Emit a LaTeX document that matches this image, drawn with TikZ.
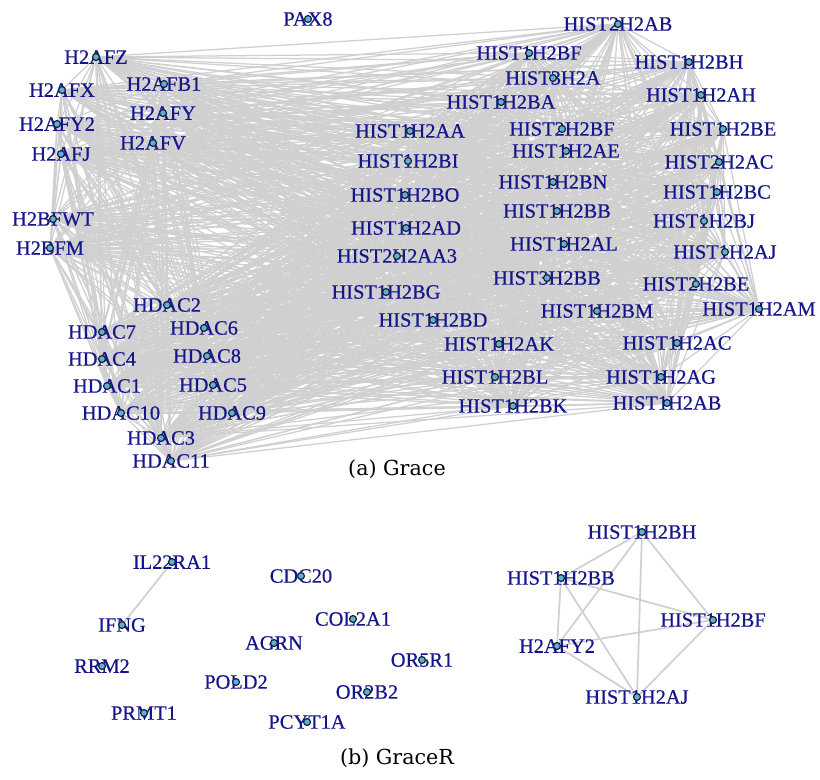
\documentclass[tikz,border=0pt]{standalone}
\usepackage{fontspec}
\setmainfont{Liberation Serif}
\newfontfamily\labfont{Liberation Serif}[FakeBold=0.5]
\newfontfamily\capfont{DejaVu Serif}
\definecolor{labcol}{RGB}{22,22,140}
\definecolor{edgecol}{RGB}{208,208,208}
\definecolor{dotfill}{RGB}{95,175,215}
\definecolor{dotline}{RGB}{20,35,55}
\pgfdeclarelayer{background}
\pgfsetlayers{background,main}
\tikzset{
  lab/.style={inner sep=0pt, text=labcol, font=\labfont\fontsize{15.3}{15}\selectfont},
  gdot/.style={circle, minimum size=5.2pt, inner sep=0pt, fill=dotfill, draw=dotline, line width=0.9pt},
  edgeA/.style={draw=edgecol, line width=0.95pt},
  edgeB/.style={draw=edgecol, line width=1.3pt},
  captxt/.style={inner sep=0pt, font=\capfont\fontsize{15.5}{16}\selectfont, text=black}
}
\newcommand\gnode[3]{\node[lab] (lbl-#1) at (#2) {#3}; \node[gdot] (#1) at (#2) {};}
\begin{document}
\begin{tikzpicture}[x=0.75pt,y=-0.75pt]
\useasboundingbox (0,0) rectangle (820,779);
% ---- panel (a)
\gnode{PAX8}{308,19}{PAX8}
\gnode{H2AFZ}{96,57}{H2AFZ}
\gnode{H2AFX}{62,90}{H2AFX}
\gnode{H2AFY2}{57,124}{H2AFY2}
\gnode{H2AFJ}{61,154}{H2AFJ}
\gnode{H2AFB1}{164,84}{H2AFB1}
\gnode{H2AFY}{163,113}{H2AFY}
\gnode{H2AFV}{153,143}{H2AFV}
\gnode{H2BFWT}{53,219}{H2BFWT}
\gnode{H2BFM}{50,248}{H2BFM}
\gnode{HIST2H2AB}{618,24}{HIST2H2AB}
\gnode{HIST1H2BF}{529,53}{HIST1H2BF}
\gnode{HIST3H2A}{553,78}{HIST3H2A}
\gnode{HIST1H2BH}{689,62}{HIST1H2BH}
\gnode{HIST1H2BA}{501,102}{HIST1H2BA}
\gnode{HIST1H2AH}{701,95}{HIST1H2AH}
\gnode{HIST1H2AA}{410,131}{HIST1H2AA}
\gnode{HIST2H2BF}{562,129}{HIST2H2BF}
\gnode{HIST1H2BE}{723,129}{HIST1H2BE}
\gnode{HIST1H2BI}{408,161}{HIST1H2BI}
\gnode{HIST1H2AE}{566,151}{HIST1H2AE}
\gnode{HIST2H2AC}{719,162}{HIST2H2AC}
\gnode{HIST1H2BO}{405,195}{HIST1H2BO}
\gnode{HIST1H2BN}{553,182}{HIST1H2BN}
\gnode{HIST1H2BC}{717,192}{HIST1H2BC}
\gnode{HIST1H2BB}{557,211}{HIST1H2BB}
\gnode{HIST1H2BJ}{704,221}{HIST1H2BJ}
\gnode{HIST1H2AD}{406,228}{HIST1H2AD}
\gnode{HIST1H2AL}{564,244}{HIST1H2AL}
\gnode{HIST1H2AJ}{725,252}{HIST1H2AJ}
\gnode{HIST2H2AA3}{397,256}{HIST2H2AA3}
\gnode{HIST3H2BB}{547,278}{HIST3H2BB}
\gnode{HIST2H2BE}{696,284}{HIST2H2BE}
\gnode{HIST1H2BG}{386,292}{HIST1H2BG}
\gnode{HIST1H2BM}{597,311}{HIST1H2BM}
\gnode{HIST1H2AM}{759,309}{HIST1H2AM}
\gnode{HIST1H2BD}{433,320}{HIST1H2BD}
\gnode{HIST1H2AK}{499,344}{HIST1H2AK}
\gnode{HIST1H2AC}{677,343}{HIST1H2AC}
\gnode{HIST1H2BL}{495,377}{HIST1H2BL}
\gnode{HIST1H2AG}{661,377}{HIST1H2AG}
\gnode{HIST1H2BK}{513,406}{HIST1H2BK}
\gnode{HIST1H2AB}{667,403}{HIST1H2AB}
\gnode{HDAC2}{167,305}{HDAC2}
\gnode{HDAC7}{102,332}{HDAC7}
\gnode{HDAC6}{204,328}{HDAC6}
\gnode{HDAC4}{102,359}{HDAC4}
\gnode{HDAC8}{207,356}{HDAC8}
\gnode{HDAC1}{107,386}{HDAC1}
\gnode{HDAC5}{213,385}{HDAC5}
\gnode{HDAC10}{121,413}{HDAC10}
\gnode{HDAC9}{232,413}{HDAC9}
\gnode{HDAC3}{161,438}{HDAC3}
\gnode{HDAC11}{171,461}{HDAC11}
\def\toplist{H2AFZ,H2AFX,H2AFY2,H2AFJ,H2AFB1,H2AFY,H2AFV,H2BFWT,H2BFM,HIST2H2AB,HIST1H2BF,HIST3H2A,HIST1H2BH,HIST1H2BA,HIST1H2AH,HIST1H2AA,HIST2H2BF,HIST1H2BE,HIST1H2BI,HIST1H2AE,HIST2H2AC,HIST1H2BO,HIST1H2BN,HIST1H2BC,HIST1H2BB,HIST1H2BJ,HIST1H2AD,HIST1H2AL,HIST1H2AJ,HIST2H2AA3,HIST3H2BB,HIST2H2BE,HIST1H2BG,HIST1H2BM,HIST1H2AM,HIST1H2BD,HIST1H2AK,HIST1H2AC,HIST1H2BL,HIST1H2AG,HIST1H2BK,HIST1H2AB,HDAC2,HDAC7,HDAC6,HDAC4,HDAC8,HDAC1,HDAC5,HDAC10,HDAC9,HDAC3,HDAC11}
\begin{pgfonlayer}{background}
\foreach \a [count=\i] in \toplist {
  \foreach \b [count=\j] in \toplist {
    \ifnum\j>\i \draw[edgeA] (\a.center) -- (\b.center); \fi
  }
}
\end{pgfonlayer}
\node[captxt] (cap-a) at (397,469) {(a) Grace};
% ---- panel (b)
\gnode{IL22RA1}{172,562}{IL22RA1}
\gnode{CDC20}{301,576}{CDC20}
\gnode{IFNG}{122,625}{IFNG}
\gnode{COL2A1}{353,619}{COL2A1}
\gnode{AGRN}{274,643}{AGRN}
\gnode{OR5R1}{422,660}{OR5R1}
\gnode{RRM2}{102,666}{RRM2}
\gnode{POLD2}{236,682}{POLD2}
\gnode{OR2B2}{367,692}{OR2B2}
\gnode{PRMT1}{144,713}{PRMT1}
\gnode{PCYT1A}{307,722}{PCYT1A}
\gnode{b-HIST1H2BH}{642,532}{HIST1H2BH}
\gnode{b-HIST1H2BB}{561,578}{HIST1H2BB}
\gnode{b-HIST1H2BF}{713,620}{HIST1H2BF}
\gnode{b-H2AFY2}{557,646}{H2AFY2}
\gnode{b-HIST1H2AJ}{637,697}{HIST1H2AJ}
\begin{pgfonlayer}{background}
\draw[edgeB] (IL22RA1.center) -- (IFNG.center);
\def\blist{b-HIST1H2BH,b-HIST1H2BB,b-HIST1H2BF,b-H2AFY2,b-HIST1H2AJ}
\foreach \a [count=\i] in \blist {
  \foreach \b [count=\j] in \blist {
    \ifnum\j>\i \draw[edgeB] (\a.center) -- (\b.center); \fi
  }
}
\end{pgfonlayer}
\node[captxt] (cap-b) at (397,758) {(b) GraceR};
\end{tikzpicture}
\end{document}
